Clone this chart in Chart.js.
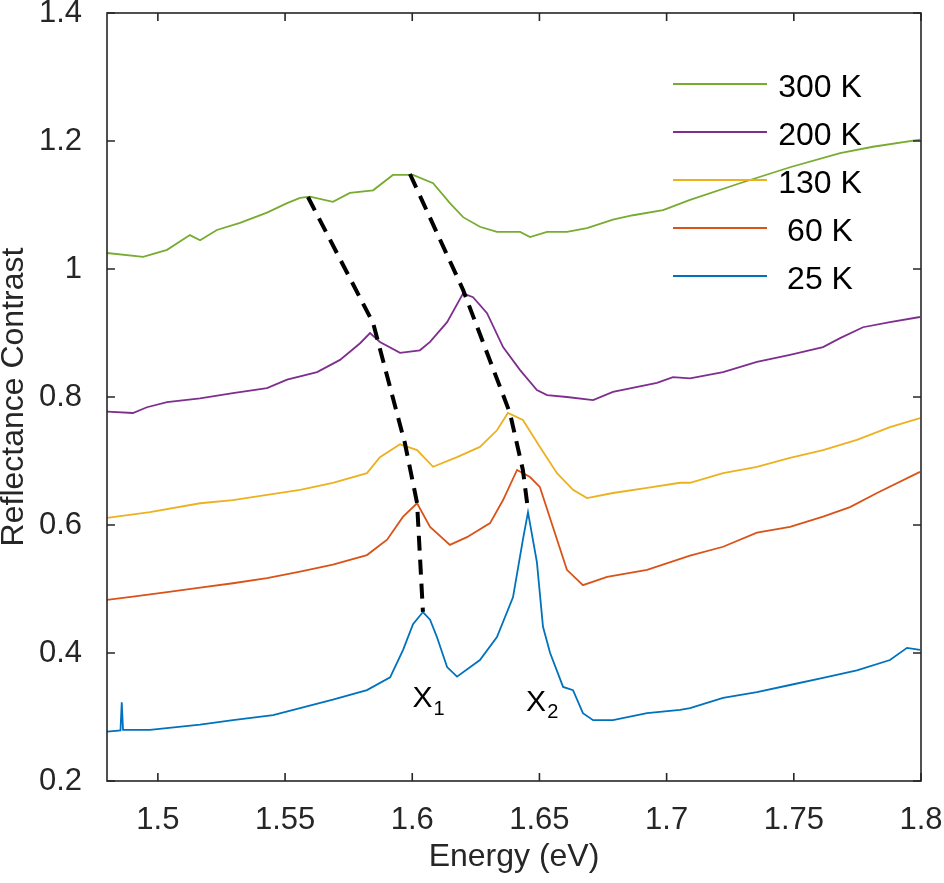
<!DOCTYPE html>
<html>
<head>
<meta charset="utf-8">
<title>Reflectance Contrast</title>
<script src="https://cdn.jsdelivr.net/npm/chart.js@4.4.1/dist/chart.umd.min.js"></script>
<style>
  html, body { margin: 0; padding: 0; background: #fff; }
  #wrap { width: 944px; height: 883px; }
</style>
</head>
<body>
<div id="wrap"><canvas id="reflChart"></canvas></div>
<script>
// Values (energy in eV, reflectance contrast)
const energy300 = [1.480, 1.4942, 1.5036, 1.5126, 1.5166, 1.5232, 1.5323, 1.5429, 1.5508, 1.5559, 1.5598, 1.5688, 1.5755, 1.5846, 1.5924, 1.6003, 1.6082, 1.6148, 1.6200, 1.6266, 1.6333, 1.6424, 1.6463, 1.6530, 1.6608, 1.6687, 1.6789, 1.6868, 1.6986, 1.7092, 1.7288, 1.7485, 1.7682, 1.7811, 1.7996];
const rc300 = [1.025, 1.019, 1.030, 1.053, 1.045, 1.061, 1.072, 1.088, 1.103, 1.111, 1.113, 1.105, 1.119, 1.123, 1.147, 1.147, 1.134, 1.103, 1.081, 1.066, 1.058, 1.058, 1.050, 1.058, 1.058, 1.064, 1.077, 1.084, 1.092, 1.108, 1.134, 1.159, 1.181, 1.191, 1.202];

const energy200 = [1.480, 1.4902, 1.4957, 1.5036, 1.5166, 1.5295, 1.5429, 1.5508, 1.5626, 1.5716, 1.5795, 1.5834, 1.5873, 1.5952, 1.6030, 1.6070, 1.6137, 1.6200, 1.6239, 1.6294, 1.6357, 1.6424, 1.6490, 1.6530, 1.6608, 1.6711, 1.6789, 1.6962, 1.7025, 1.7092, 1.7222, 1.7355, 1.7485, 1.7615, 1.7682, 1.7772, 1.7878, 1.7996];
const rc200 = [0.777, 0.775, 0.784, 0.792, 0.798, 0.806, 0.814, 0.827, 0.839, 0.858, 0.884, 0.900, 0.886, 0.869, 0.873, 0.886, 0.917, 0.962, 0.956, 0.931, 0.878, 0.842, 0.811, 0.803, 0.800, 0.795, 0.808, 0.822, 0.831, 0.829, 0.839, 0.855, 0.866, 0.878, 0.892, 0.909, 0.917, 0.925];

const energy130 = [1.480, 1.4969, 1.5166, 1.5295, 1.5429, 1.5559, 1.5688, 1.5822, 1.5873, 1.5952, 1.6019, 1.6082, 1.6176, 1.6266, 1.6333, 1.6376, 1.6435, 1.6502, 1.6569, 1.6632, 1.6687, 1.6789, 1.6923, 1.7053, 1.7092, 1.7222, 1.7355, 1.7485, 1.7615, 1.7748, 1.7878, 1.7996];
const rc130 = [0.611, 0.620, 0.634, 0.639, 0.647, 0.655, 0.666, 0.681, 0.706, 0.726, 0.717, 0.691, 0.706, 0.722, 0.748, 0.775, 0.764, 0.722, 0.681, 0.655, 0.642, 0.650, 0.658, 0.666, 0.666, 0.681, 0.691, 0.705, 0.717, 0.733, 0.753, 0.767];

const energy60 = [1.480, 1.4902, 1.5036, 1.5166, 1.5295, 1.5429, 1.5559, 1.5688, 1.5822, 1.5901, 1.5964, 1.6019, 1.6070, 1.6148, 1.6215, 1.6306, 1.6357, 1.6412, 1.6463, 1.6502, 1.6553, 1.6608, 1.6671, 1.6766, 1.6923, 1.7092, 1.7222, 1.7355, 1.7485, 1.7615, 1.7721, 1.7827, 1.7996];
const rc60 = [0.483, 0.488, 0.495, 0.502, 0.509, 0.517, 0.527, 0.538, 0.553, 0.577, 0.613, 0.634, 0.597, 0.569, 0.581, 0.603, 0.639, 0.686, 0.675, 0.659, 0.597, 0.530, 0.506, 0.519, 0.530, 0.552, 0.566, 0.588, 0.597, 0.613, 0.628, 0.650, 0.683];

const energy25 = [1.480, 1.4853, 1.4858, 1.4863, 1.4969, 1.5166, 1.5295, 1.5453, 1.5559, 1.5688, 1.5822, 1.5913, 1.5964, 1.6003, 1.6042, 1.6070, 1.6097, 1.6137, 1.6176, 1.6266, 1.6333, 1.6396, 1.6435, 1.6455, 1.6490, 1.6514, 1.6542, 1.6593, 1.6632, 1.6671, 1.6711, 1.6789, 1.6923, 1.7053, 1.7092, 1.7222, 1.7355, 1.7485, 1.7615, 1.7748, 1.7878, 1.7945, 1.7996];
const rc25 = [0.277, 0.279, 0.323, 0.280, 0.280, 0.288, 0.295, 0.303, 0.314, 0.327, 0.342, 0.362, 0.405, 0.445, 0.464, 0.452, 0.425, 0.378, 0.363, 0.389, 0.425, 0.487, 0.577, 0.620, 0.542, 0.441, 0.400, 0.347, 0.342, 0.306, 0.295, 0.295, 0.306, 0.311, 0.314, 0.330, 0.339, 0.350, 0.361, 0.373, 0.389, 0.408, 0.405];

// dashed guide lines through the X1 and X2 peaks
const x1PathE = [1.5590, 1.5846, 1.5971, 1.6019, 1.6042];
const x1PathR = [1.1125, 0.9156, 0.7281, 0.6344, 0.4641];
const x2PathE = [1.5991, 1.6200, 1.6384, 1.6435, 1.6455];
const x2PathR = [1.1484, 0.9672, 0.7750, 0.6859, 0.6234];

const seriesLabels = ['300 K', '200 K', '130 K', '60 K', '25 K'];
const seriesColors = ['#77AC30', '#7E2F8E', '#EDB120', '#D95319', '#0072BD'];

const xTicks = [1.5, 1.55, 1.6, 1.65, 1.7, 1.75, 1.8];
const yTicks = [0.2, 0.4, 0.6, 0.8, 1, 1.2, 1.4];

// peak labels: [main text, subscript, energy, value]
const peakLabels = [['X', '1', 1.6040, 0.328], ['X', '2', 1.6487, 0.322]];

const FONT = "'Liberation Sans', Arial, Helvetica, sans-serif";
const TEXT_COLOR = '#262626';

function toPoints(xs, ys) {
    return xs.map((x, i) => ({ x: x, y: ys[i] }));
}

const curveEnergies = [energy300, energy200, energy130, energy60, energy25];
const curveValues = [rc300, rc200, rc130, rc60, rc25];

const datasets = [];
[[x1PathE, x1PathR], [x2PathE, x2PathR]].forEach(pair => {
    datasets.push({
        label: 'guide',
        data: toPoints(pair[0], pair[1]),
        borderColor: '#000',
        borderWidth: 4,
        borderDash: [15, 9],
        pointRadius: 0,
        showLine: true,
        order: 0
    });
});
seriesLabels.forEach((label, i) => {
    datasets.push({
        label: label,
        data: toPoints(curveEnergies[i], curveValues[i]),
        borderColor: seriesColors[i],
        borderWidth: 1.8,
        pointRadius: 0,
        showLine: true,
        tension: 0,
        order: 1
    });
});

// Box around the plot with inward ticks on all four sides
const framePlugin = {
    id: 'frame',
    afterDraw(chart) {
        const ctx = chart.ctx;
        const area = chart.chartArea;
        const xs = chart.scales.x;
        const ys = chart.scales.y;
        const len = 8;
        ctx.save();
        ctx.strokeStyle = TEXT_COLOR;
        ctx.lineWidth = 1.6;
        ctx.strokeRect(area.left, area.top, area.right - area.left, area.bottom - area.top);
        ctx.beginPath();
        xTicks.forEach(v => {
            const px = xs.getPixelForValue(v);
            ctx.moveTo(px, area.bottom); ctx.lineTo(px, area.bottom - len);
            ctx.moveTo(px, area.top); ctx.lineTo(px, area.top + len);
        });
        yTicks.forEach(v => {
            const py = ys.getPixelForValue(v);
            ctx.moveTo(area.left, py); ctx.lineTo(area.left + len, py);
            ctx.moveTo(area.right, py); ctx.lineTo(area.right - len, py);
        });
        ctx.stroke();
        ctx.restore();
    }
};

// Legend drawn inside the plot, like the original figure (no box)
const legendPlugin = {
    id: 'insideLegend',
    afterDatasetsDraw(chart) {
        const ctx = chart.ctx;
        ctx.save();
        ctx.font = '32px ' + FONT;
        ctx.textAlign = 'center';
        ctx.textBaseline = 'middle';
        seriesLabels.forEach((label, i) => {
            const y = 84 + i * 48;
            ctx.strokeStyle = seriesColors[i];
            ctx.lineWidth = 2;
            ctx.beginPath();
            ctx.moveTo(673, y);
            ctx.lineTo(767, y);
            ctx.stroke();
            ctx.fillStyle = '#000';
            ctx.fillText(label, 820, y + 4);
        });
        ctx.restore();
    }
};

const peakLabelPlugin = {
    id: 'peakLabels',
    afterDatasetsDraw(chart) {
        const ctx = chart.ctx;
        const xs = chart.scales.x;
        const ys = chart.scales.y;
        ctx.save();
        ctx.fillStyle = '#000';
        ctx.textBaseline = 'middle';
        peakLabels.forEach(p => {
            const px = xs.getPixelForValue(p[2]);
            const py = ys.getPixelForValue(p[3]);
            ctx.font = '30px ' + FONT;
            ctx.textAlign = 'right';
            ctx.fillText(p[0], px + 10, py);
            ctx.font = '20px ' + FONT;
            ctx.textAlign = 'left';
            ctx.fillText(p[1], px + 11, py + 10);
        });
        ctx.restore();
    }
};

new Chart(document.getElementById('reflChart'), {
    type: 'scatter',
    data: { datasets: datasets },
    plugins: [framePlugin, legendPlugin, peakLabelPlugin],
    options: {
        responsive: true,
        maintainAspectRatio: false,
        animation: false,
        layout: { padding: { top: 13, right: 23, left: 0, bottom: 0 } },
        plugins: {
            legend: { display: false },
            tooltip: { enabled: false }
        },
        scales: {
            x: {
                type: 'linear',
                min: 1.48,
                max: 1.8,
                grid: { display: false },
                border: { display: false },
                afterBuildTicks: function (scale) {
                    scale.ticks = xTicks.map(v => ({ value: v }));
                },
                afterFit: function (scale) {
                    scale.height = 102;
                    scale.paddingLeft = 0;
                    scale.paddingRight = 0;
                },
                ticks: {
                    color: TEXT_COLOR,
                    padding: 13,
                    maxRotation: 0,
                    font: { family: FONT, size: 31 },
                    callback: v => String(v)
                },
                title: {
                    display: true,
                    text: 'Energy (eV)',
                    color: TEXT_COLOR,
                    padding: { top: 0, bottom: 7 },
                    font: { family: FONT, size: 32 }
                }
            },
            y: {
                type: 'linear',
                min: 0.2,
                max: 1.4,
                grid: { display: false },
                border: { display: false },
                afterBuildTicks: function (scale) {
                    scale.ticks = yTicks.map(v => ({ value: v }));
                },
                afterFit: function (scale) {
                    scale.width = 107;
                    scale.paddingTop = 0;
                    scale.paddingBottom = 0;
                },
                ticks: {
                    color: TEXT_COLOR,
                    padding: 17,
                    font: { family: FONT, size: 31 },
                    callback: v => String(v)
                },
                title: {
                    display: true,
                    text: 'Reflectance Contrast',
                    color: TEXT_COLOR,
                    padding: { top: -5, bottom: 0 },
                    font: { family: FONT, size: 32 }
                }
            }
        }
    }
});
</script>
</body>
</html>
